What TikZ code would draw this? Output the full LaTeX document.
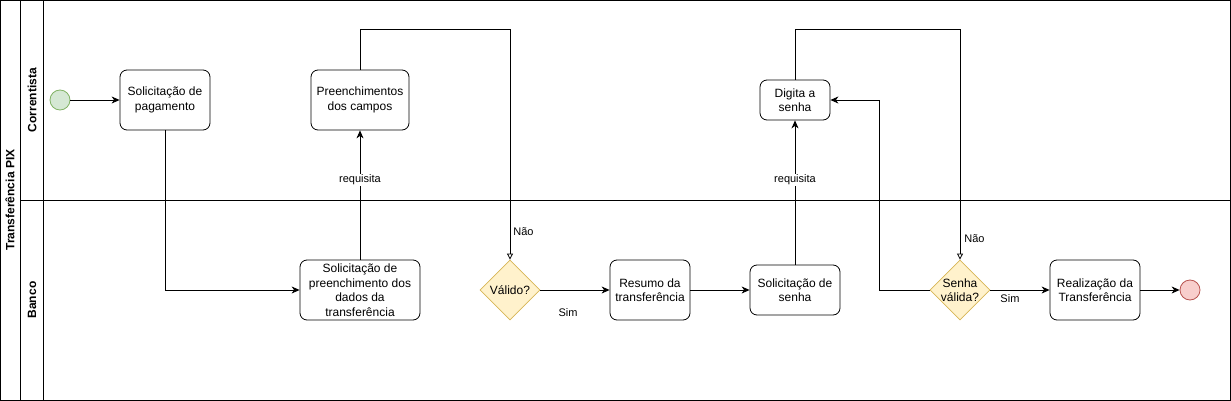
\documentclass[tikz,border=0pt]{standalone}
\usepackage{fontspec}
\setmainfont{Liberation Sans}
\usepackage{tikz}
\usetikzlibrary{arrows.meta,shapes.geometric}
\definecolor{inicioFill}{HTML}{D5E8D4}
\definecolor{inicioLine}{HTML}{82B366}
\definecolor{fimFill}{HTML}{F8CECC}
\definecolor{fimLine}{HTML}{B85450}
\definecolor{gwFill}{HTML}{FFF2CC}
\definecolor{gwLine}{HTML}{D6B656}
\tikzset{
  task/.style = {draw=black, rounded corners=7pt, fill=white, align=center,
    inner sep=1pt, font=\fontsize{12}{14.5}\selectfont},% atividade
  gw/.style = {diamond, draw=gwLine, fill=gwFill, minimum width=60pt,
    minimum height=60pt, inner sep=0pt, align=center,
    font=\fontsize{12}{14.5}\selectfont},% gateway exclusivo
  ev_ini/.style = {circle, draw=inicioLine, fill=inicioFill, minimum size=20pt,
    inner sep=0pt},% evento de inicio
  ev_fim/.style = {circle, draw=fimLine, fill=fimFill, minimum size=20pt,
    inner sep=0pt},% evento de fim
  raia/.style = {font=\bfseries\fontsize{12}{14}\selectfont, rotate=90},
  rotulo/.style = {font=\fontsize{11}{13}\selectfont, inner sep=1pt},
  fluxo/.style = {-{Stealth[length=8pt,width=7pt,inset=2.5pt]}},
  fluxo_nao/.style = {-{Triangle[open,length=6pt,width=6pt]}}
}

\begin{document}
\begin{tikzpicture}[x=1pt, y=-1pt, line width=0.8pt]
	\useasboundingbox (0,0) rectangle (1231,401);
	% pool e raias
	\draw (0.5,0.5) rectangle (1230.5,400.5);
	\draw (20.5,0.5) -- (20.5,400.5);
	\draw (43.5,0.5) -- (43.5,400.5);
	\draw (20.5,200.5) -- (1230.5,200.5);
	\node [raia] (pool) at (10,200) {Transferência PIX};
	\node [raia] (correntista) at (32,100) {Correntista};
	\node [raia] (banco) at (32,300) {Banco};
	% correntista
	\node [ev_ini] (inicio) at (60,100) {};
	\node [task, minimum width=90pt, minimum height=60pt] (pagamento) at (165,100) {Solicitação de\\pagamento};
	\node [task, minimum width=98pt, minimum height=60pt] (campos) at (360,100) {Preenchimentos\\dos campos};
	\node [task, minimum width=70pt, minimum height=40pt] (digita) at (795,100) {Digita a\\senha};
	% banco
	\node [task, minimum width=120pt, minimum height=60pt] (preench) at (360,290) {Solicitação de\\preenchimento dos\\dados da\\transferência};
	\node [gw] (valido) at (510,290) {};
	\node [font=\fontsize{12}{14.5}\selectfont] (validoTxt) at (valido.center) {Válido?};
	\node [task, minimum width=80pt, minimum height=60pt] (resumo) at (650,290) {Resumo da\\transferência};
	\node [task, minimum width=90pt, minimum height=50pt] (senha) at (795,290) {Solicitação de\\senha};
	\node [gw] (senhaOk) at (960,290) {};
	\node [font=\fontsize{12}{14.5}\selectfont, align=center] (senhaOkTxt) at (senhaOk.center) {Senha\\válida?};
	\node [task, minimum width=90pt, minimum height=60pt] (realiza) at (1095,290) {Realização da\\Transferência};
	\node [ev_fim] (fim) at (1190,290) {};
	% fluxos
	\draw [fluxo] (inicio) -- (pagamento);
	\draw [fluxo] (pagamento.south) |- (preench.west);
	\draw [fluxo] (preench.north) -- node [rotulo, fill=white, pos=0.615] {requisita} (campos.south);
	\draw [fluxo_nao] (campos.north) -- ++(0,-40) -| node [rotulo, pos=0.94, right=2pt] {Não} (valido.north);
	\draw [fluxo] (valido.east) -- node [rotulo, pos=0.4, below=17pt] {Sim} (resumo.west);
	\draw [fluxo] (resumo) -- (senha);
	\draw [fluxo] (senha.north) -- node [rotulo, fill=white, pos=0.586] {requisita} (digita.south);
	\draw [fluxo_nao] (digita.north) -- ++(0,-50) -| node [rotulo, pos=0.955, right=3pt] {Não} (senhaOk.north);
	\draw [fluxo] (senhaOk.west) -- ++(-50,0) |- (digita.east);
	\draw [fluxo] (senhaOk.east) -- node [rotulo, pos=0.33, below=3pt] {Sim} (realiza.west);
	\draw [fluxo] (realiza) -- (fim);
\end{tikzpicture}
\end{document}
